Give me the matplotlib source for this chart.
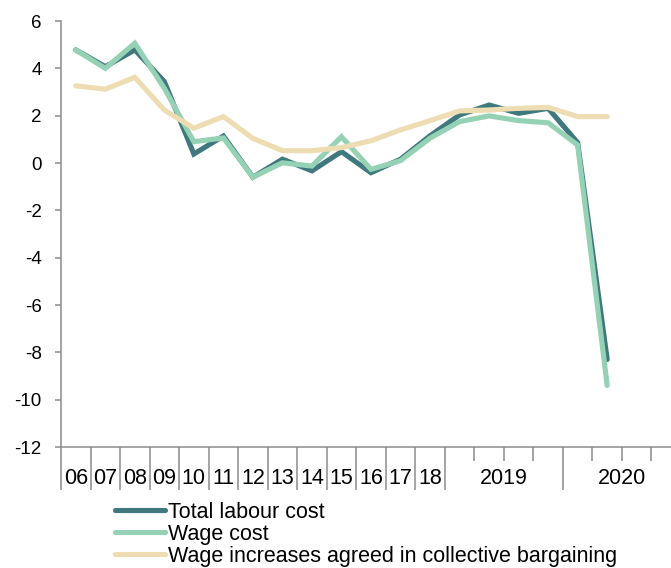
import matplotlib
matplotlib.use("Agg")
import matplotlib.pyplot as plt
from matplotlib.ticker import FixedLocator

plt.rcParams['font.family'] = ['Liberation Sans', 'DejaVu Sans']

# ---- data ----
year_labels = ["06", "07", "08", "09", "10", "11", "12", "13", "14", "15", "16", "17", "18"]
quarter_years = ["2019", "2020"]
quarters_per_year = 4

total_labour_cost = [4.78, 4.07, 4.78, 3.44, 0.38, 1.14, -0.60, 0.16, -0.33, 0.48, -0.41, 0.16, 1.15,
                     2.03, 2.45, 2.10, 2.31, 0.86, -8.30]
wage_cost = [4.78, 4.00, 5.06, 3.16, 0.90, 1.06, -0.60, 0.01, -0.13, 1.11, -0.27, 0.10, 1.05,
             1.75, 1.99, 1.79, 1.70, 0.76, -9.40]
collective_bargaining = [3.26, 3.12, 3.62, 2.24, 1.47, 1.96, 1.04, 0.52, 0.52, 0.65, 0.94, 1.40, 1.79,
                         2.20, 2.24, 2.31, 2.35, 1.96, 1.96]

series_names = ["Total labour cost", "Wage cost", "Wage increases agreed in collective bargaining"]
series_colors = ["#3F787D", "#95D1B5", "#EEDCB3"]

# ---- layout ----
fig = plt.figure(figsize=(6.71, 5.68), dpi=100)
n_years = len(year_labels)
n_total = n_years + quarters_per_year * len(quarter_years)
ax_left = 61 / 671
ax_bottom = 121 / 568
ax_top = 547 / 568
ax_right = 681 / 671
ax = fig.add_axes([ax_left, ax_bottom, ax_right - ax_left, ax_top - ax_bottom])

x = [i + 0.5 for i in range(len(total_labour_cost))]
for vals, name, col in zip([total_labour_cost, wage_cost, collective_bargaining], series_names, series_colors):
    ax.plot(x, vals, color=col, lw=3.7, label=name, solid_capstyle='round', solid_joinstyle='miter')

ax.set_xlim(0, n_total)
ax.set_ylim(-12, 6)
ax.set_yticks(range(-12, 7, 2))
ax.set_yticklabels([str(v) for v in range(-12, 7, 2)], fontsize=13.5)

for s in ["top", "right"]:
    ax.spines[s].set_visible(False)
for s in ["left", "bottom"]:
    ax.spines[s].set_color("#8C8C8C")
    ax.spines[s].set_linewidth(1.1)

ax.tick_params(axis='y', direction='out', length=4, width=1.1, color="#8C8C8C", pad=10)

# x ticks: category boundaries
major = list(range(0, n_years + 1))
minor = []
for k in range(len(quarter_years)):
    start = n_years + k * quarters_per_year
    major.append(start + quarters_per_year)
    minor.extend([start + q for q in range(1, quarters_per_year)])
ax.xaxis.set_major_locator(FixedLocator(major))
ax.xaxis.set_minor_locator(FixedLocator(minor))
ax.tick_params(axis='x', which='major', direction='out', length=31, width=1.1, color="#8C8C8C", labelbottom=False)
ax.tick_params(axis='x', which='minor', direction='out', length=10, width=1.1, color="#8C8C8C", labelbottom=False)

trans = ax.get_xaxis_transform()
label_positions = [i + 0.5 for i in range(n_years)] + \
    [n_years + k * quarters_per_year + quarters_per_year / 2 for k in range(len(quarter_years))]
for pos, lab in zip(label_positions, year_labels + quarter_years):
    ax.annotate(lab, xy=(pos, 0), xycoords=trans, xytext=(0, -22.5), textcoords='offset points',
                ha='center', va='center', fontsize=15.5, clip_on=False, annotation_clip=False)

leg = fig.legend(loc='upper left', bbox_to_anchor=(115 / 671, 1 - 502 / 568), frameon=False,
                 fontsize=15.5, handlelength=2.3, handletextpad=0.15, labelspacing=0.04,
                 borderpad=0, borderaxespad=0)

fig.savefig("out.png", dpi=100)
